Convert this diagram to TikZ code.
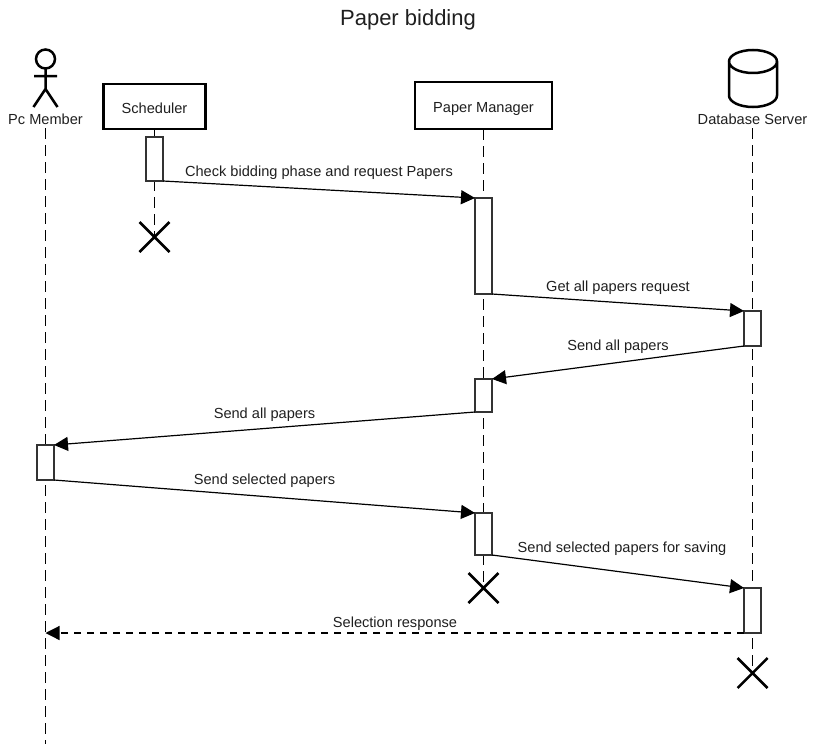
\documentclass[tikz,border=0pt]{standalone}
\usepackage{fontspec}
\setmainfont{Liberation Sans}
\usetikzlibrary{arrows.meta,shapes.misc}
\tikzset{
  every node/.style={inner sep=0pt,outer sep=0pt,text=black!88},
  txt/.style={font=\fontsize{14.6}{17}\selectfont,text height=10pt,text depth=3pt},
  headtxt/.style={font=\fontsize{14.6}{17}\selectfont,text height=13.6pt,text depth=0pt},
  head/.style={draw=black,line width=2.5pt,fill=white,headtxt},
  life/.style={draw=black,line width=1.3pt,dash pattern=on 11pt off 6pt},
  act/.style={draw=black!80,line width=1.2pt,fill=white,minimum width=17pt},
  stickline/.style={draw=black,line width=2.5pt},
  msg/.style={draw=black,line width=1.2pt,-{Triangle[length=14pt,width=14pt]}},
  retmsg/.style={msg,dash pattern=on 7pt off 6pt},
  kill/.style={cross out,draw=black,line width=2.5pt,minimum size=30pt,text=black},
}
\begin{document}
\begin{tikzpicture}[x=1pt,y=-1pt]
\useasboundingbox (0,0) rectangle (816,744);
\node[font=\fontsize{22}{26}\selectfont,text height=16pt,text depth=5pt] (title) at (408,19.5) {Paper bidding};
% heads
\node[head,minimum width=102pt,minimum height=45pt] (sched) at (154.5,106.5) {Scheduler};
\node[head,minimum width=137pt,minimum height=47pt] (pm) at (483.5,105.5) {Paper Manager};
\node[txt] (pc) at (45.5,120.5) {Pc Member};
\node[txt] (db) at (752.5,120.5) {Database Server};
% actor
\draw[stickline] (45.5,59) circle (9.5);
\draw[stickline] (45.5,68.5) -- (45.5,89) (34,76) -- (57,76) (33.5,107) -- (45.5,89) -- (57.5,107);
% database
\draw[stickline,line join=round] (729,61.5) arc[start angle=180,end angle=0,x radius=24,y radius=11.5] -- (777,95.5) arc[start angle=0,end angle=180,x radius=24,y radius=11.5] -- cycle;
\draw[stickline] (729,61.5) arc[start angle=180,end angle=360,x radius=24,y radius=11.5];
% crosses
\node[kill] (xs) at (154.5,237) {};
\node[kill] (xp) at (483.5,588) {};
\node[kill] (xd) at (752.5,673) {};
\coordinate (pcend) at (45.5,744);
\coordinate (pclife) at (45.5,128);
\coordinate (dblife) at (752.5,128);
% lifelines
\draw[life] (pclife) -- (pcend);
\draw[life] (sched.south) -- (xs.center);
\draw[life] (pm.south) -- (xp.center);
\draw[life] (dblife) -- (xd.center);
% activations
\node[act,minimum height=44pt] (as) at (154.5,159) {};
\node[act,minimum height=96pt] (p1) at (483.5,246) {};
\node[act,minimum height=33pt] (p2) at (483.5,395.5) {};
\node[act,minimum height=42pt] (p3) at (483.5,534) {};
\node[act,minimum height=35pt] (d1) at (752.5,328.5) {};
\node[act,minimum height=45pt] (d2) at (752.5,610.5) {};
\node[act,minimum height=35pt] (c1) at (45.5,462.5) {};
% messages
\draw[msg] (as.south east) -- (p1.north west);
\draw[msg] (p1.south east) -- (d1.north west);
\draw[msg] (d1.south west) -- (p2.north east);
\draw[msg] (p2.south west) -- (c1.north east);
\draw[msg] (c1.south east) -- (p3.north west);
\draw[msg] (p3.south east) -- (d2.north west);
\coordinate (rettip) at (45.5,633);
\draw[retmsg] (d2.south west) -- (rettip);
% labels
\node[txt] (l1) at (319,173) {Check bidding phase and request Papers};
\node[txt] (l2) at (618,288) {Get all papers request};
\node[txt] (l3) at (618,347) {Send all papers};
\node[txt] (l4) at (264.5,415) {Send all papers};
\node[txt] (l5) at (264.5,481) {Send selected papers};
\node[txt] (l6) at (622,549) {Send selected papers for saving};
\node[txt] (l7) at (395,624) {Selection response};
\end{tikzpicture}
\end{document}
